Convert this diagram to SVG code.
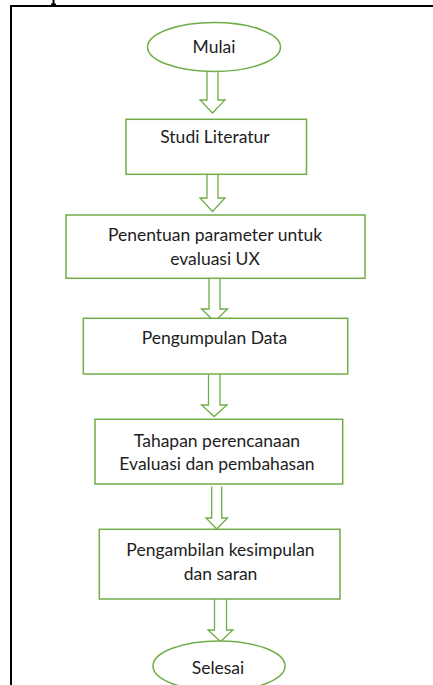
<svg xmlns="http://www.w3.org/2000/svg" width="433" height="685" viewBox="0 0 433 685">
<style>
.n{fill:#fff;stroke:#70AD47;stroke-width:1.5}
.a{fill:#fff;stroke:#70AD47;stroke-width:1.3;stroke-linejoin:miter}
.t{font-family:Lato,"Open Sans","Liberation Sans",sans-serif;font-size:17.5px;fill:#1e1e1e;text-anchor:middle}
</style>
<rect x="0" y="0" width="433" height="685" fill="#fff"/>
<g id="frame">
<rect x="10" y="5" width="423" height="2" fill="#000"/>
<rect x="10" y="5" width="2" height="680" fill="#000"/>
<rect x="52.5" y="0" width="2" height="5" fill="#000"/>
<rect x="51" y="3.5" width="5" height="1.5" fill="#000"/>
</g>
<g id="connectors">
<path class="a" d="M207,71.5 V100 H200 L212.5,113 L225,100 H218 V71.5"/>
<path class="a" d="M207,174.5 V198 H200 L212.5,211.5 L225,198 H218 V174.5"/>
<path class="a" d="M209,278.5 V309 H201.5 L214.5,321.5 L227.5,309 H220 V278.5"/>
<path class="a" d="M208.5,374 V405 H201.5 L214.2,416.5 L227,405 H220 V374"/>
<path class="a" d="M211.7,486.5 V518 H206 L216.7,529 L227.5,518 H221.7 V486.5"/>
<path class="a" d="M214.5,599 V630 H208 L220.5,641.5 L233,630 H226.5 V599"/>
</g>
<g id="mulai">
<ellipse class="n" cx="214" cy="47" rx="66.5" ry="24.5"/>
<text class="t" x="214" y="52.5">Mulai</text>
</g>
<g id="studi">
<rect class="n" x="126" y="119.3" width="180.5" height="55"/>
<text class="t" x="215" y="142.5">Studi Literatur</text>
</g>
<g id="parameter">
<rect class="n" x="66" y="215" width="299" height="63.3"/>
<text class="t" x="215" y="241">Penentuan parameter untuk</text>
<text class="t" x="215" y="264.5">evaluasi UX</text>
</g>
<g id="pengumpulan">
<rect class="n" x="83.3" y="318.3" width="264.4" height="55.7"/>
<text class="t" x="214.5" y="343.5">Pengumpulan Data</text>
</g>
<g id="tahapan">
<rect class="n" x="95" y="419.3" width="247.7" height="64.7"/>
<text class="t" x="217" y="446.5">Tahapan perencanaan</text>
<text class="t" x="217" y="469.8">Evaluasi dan pembahasan</text>
</g>
<g id="pengambilan">
<rect class="n" x="99.3" y="529.3" width="240.7" height="69.7"/>
<text class="t" x="220.5" y="555.5">Pengambilan kesimpulan</text>
<text class="t" x="220.5" y="579.8">dan saran</text>
</g>
<g id="selesai">
<ellipse class="n" cx="219" cy="666" rx="66" ry="25"/>
<text class="t" x="218" y="673.8">Selesai</text>
</g>
</svg>
